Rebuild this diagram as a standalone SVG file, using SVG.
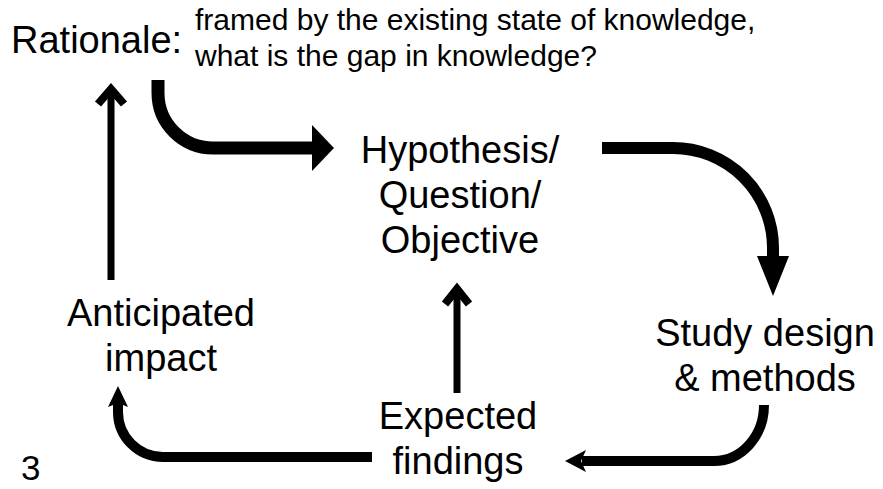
<svg xmlns="http://www.w3.org/2000/svg" width="883" height="489" viewBox="0 0 883 489">
<style>
.t{font-family:"Liberation Sans",Arial,sans-serif;fill:#000;}
.big{font-size:38px;}
.small{font-size:30px;}
.c{text-anchor:middle;}
.ln{fill:none;stroke:#000;stroke-linecap:butt;}
.hd{fill:#000;stroke:none;}
.chev{fill:none;stroke:#000;stroke-width:8;stroke-linejoin:miter;stroke-miterlimit:10;}
</style>
<rect width="883" height="489" fill="#fff"/>
<g id="rationale">
<text class="t big" x="11" y="53">Rationale:</text>
<text class="t small" x="195" y="30">framed by the existing state of knowledge,</text>
<text class="t small" x="195" y="66">what is the gap in knowledge?</text>
</g>
<g id="hypothesis">
<text class="t big c" x="460" y="163">Hypothesis/</text>
<text class="t big c" x="460" y="208">Question/</text>
<text class="t big c" x="460" y="253">Objective</text>
</g>
<g id="study">
<text class="t big c" x="765" y="346">Study design</text>
<text class="t big c" x="765" y="391">&amp; methods</text>
</g>
<g id="findings">
<text class="t big c" x="458" y="429">Expected</text>
<text class="t big c" x="458" y="474">findings</text>
</g>
<g id="impact">
<text class="t big c" x="161" y="326">Anticipated</text>
<text class="t big c" x="161" y="371">impact</text>
</g>
<g id="page">
<text class="t" x="21" y="480" style="font-size:35px">3</text>
</g>
<g id="connectors">
<!-- rationale -> hypothesis -->
<path class="ln" stroke-width="13" d="M158,80 L158,93 A55,55 0 0 0 213,148 L314,148"/>
<polygon class="hd" points="312,125 334,148 312,171"/>
<!-- hypothesis -> study -->
<path class="ln" stroke-width="12" d="M602,148 L673,148 A100,100 0 0 1 773,248 L773,258"/>
<polygon class="hd" points="757,256 789,256 773,296"/>
<!-- study -> findings -->
<path class="ln" stroke-width="10" d="M764,405 A50,56 0 0 1 714,461 L582,461"/>
<polygon class="hd" points="565,461 586,450 581,461 586,472"/>
<!-- findings -> hypothesis -->
<path class="ln" stroke-width="7" d="M457,393 L457,290"/>
<polyline class="chev" points="445,304 457,289 469,304"/>
<!-- findings -> impact -->
<path class="ln" stroke-width="10" d="M372,457 L163,457 A45,45 0 0 1 118,412 L118,402"/>
<polygon class="hd" points="118,386 128,407 118,403 108,407"/>
<!-- impact -> rationale -->
<path class="ln" stroke-width="7" d="M111,280 L111,89"/>
<polyline class="chev" points="98,104 111,89 124,104"/>
</g>
</svg>
